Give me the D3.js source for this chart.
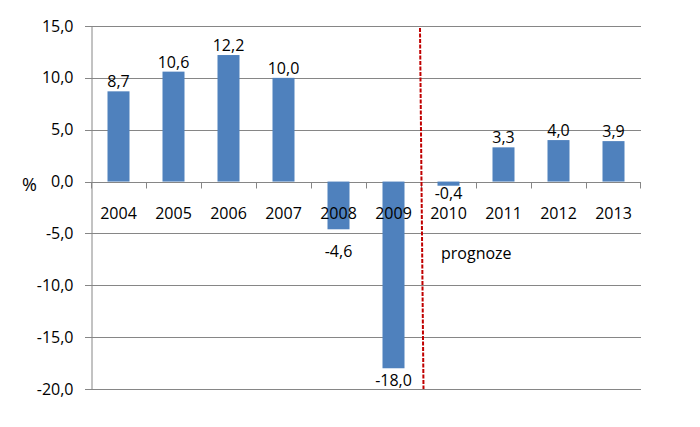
<!DOCTYPE html>
<html><head><meta charset="utf-8">
<script src="https://cdn.jsdelivr.net/npm/d3@7"></script>
<style>body{margin:0;background:#fff}svg{display:block}text{font-family:"Open Sans",sans-serif;font-size:16px;fill:#000}</style>
</head><body><svg id="c" width="700" height="427"></svg>
<script>
const years = ["2004","2005","2006","2007","2008","2009","2010","2011","2012","2013"];
const growth = [8.7,10.6,12.2,10.0,-4.6,-18.0,-0.4,3.3,4.0,3.9];
const yTicks = [15,10,5,0,-5,-10,-15,-20];
const forecastStart = "2010";
const forecastLabel = "prognoze";
const unitLabel = "%";

const fmt = v => d3.format(".1f")(v).replace(".", ",").replace("−","-");
const svg = d3.select("#c");
const L = 91, R = 641, T = 26, B = 389;
const x = d3.scaleBand().domain(years).range([L, R]).paddingInner(0.6).paddingOuter(0.3);
const xb = d3.scaleBand().domain(years).range([L, R]);
const y = d3.scaleLinear().domain([-20, 15]).range([B, T]);
const grey = "#868686";

// gridlines
svg.append("g").selectAll("line").data(yTicks).join("line")
  .attr("x1", L - 6).attr("x2", R).attr("y1", d => Math.round(y(d)) + 0.5).attr("y2", d => Math.round(y(d)) + 0.5)
  .attr("stroke", grey).attr("stroke-width", 1);
// y axis
const ya = svg.append("g").attr("transform", `translate(${L + 0.5},0)`)
  .call(d3.axisLeft(y).tickValues(yTicks).tickSize(0).tickPadding(18).tickFormat(fmt));
ya.select(".domain").attr("stroke", grey);
ya.selectAll("text").style("font-family", "Open Sans").style("font-size", "16px").attr("fill", "#000");

// bars
svg.append("g").selectAll("rect").data(years).join("rect")
  .attr("x", d => x(d)).attr("width", x.bandwidth())
  .attr("y", (d, i) => y(Math.max(0, growth[i])))
  .attr("height", (d, i) => Math.abs(y(growth[i]) - y(0)))
  .attr("fill", "#4f81bd");

// category ticks
const y0 = Math.round(y(0)) + 0.5;
svg.append("g").selectAll("line").data(years.concat(["end"])).join("line")
  .attr("x1", d => d === "end" ? R - 0.5 : xb(d) + 0.5).attr("x2", d => d === "end" ? R - 0.5 : xb(d) + 0.5)
  .attr("y1", y0).attr("y2", y0 + 6).attr("stroke", grey);

// category labels
svg.append("g").selectAll("text").data(years).join("text")
  .attr("x", d => xb(d) + xb.bandwidth() / 2).attr("y", y(0) + 37)
  .attr("text-anchor", "middle").text(d => d);

// value labels
const labelDy = {"2008": 10, "2010": -5};
svg.append("g").selectAll("text").data(years).join("text")
  .attr("x", d => x(d) + x.bandwidth() / 2)
  .attr("y", (d, i) => growth[i] >= 0 ? y(growth[i]) - 4 : y(growth[i]) + 18 + (labelDy[d] || 0))
  .attr("text-anchor", "middle").text((d, i) => fmt(growth[i]));

// unit
svg.append("text").attr("x", 22).attr("y", y(0) + 9).style("font-size", "18px").text(unitLabel);

// forecast line
const fx = xb(forecastStart);
svg.append("line").attr("x1", fx - 1).attr("y1", T + 2).attr("x2", fx + 2.5).attr("y2", B)
  .attr("stroke", "#c00000").attr("stroke-width", 2).attr("stroke-dasharray", "4,1.5");
svg.append("text").attr("x", fx + 20).attr("y", y(-5) + 26).text(forecastLabel);
</script></body></html>
